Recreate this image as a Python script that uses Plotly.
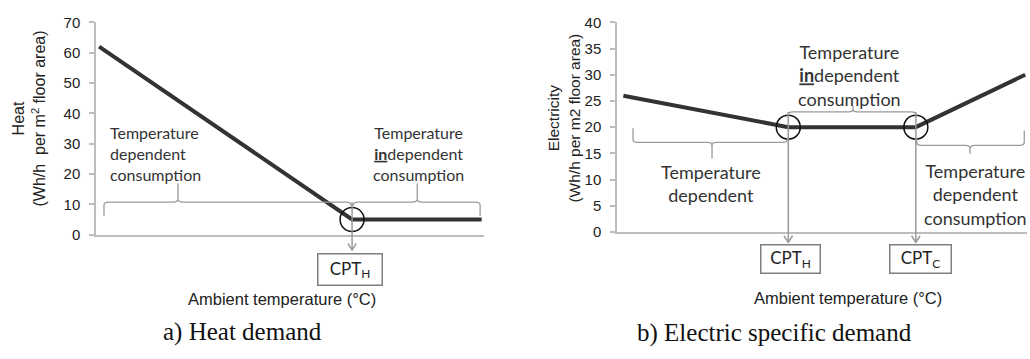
import plotly.graph_objects as go

# ---- data -------------------------------------------------------------
heat_temp = [-19.6, 13.0, 29.7]        # ambient temperature (arbitrary scale)
heat_demand = [62, 5, 5]               # Wh/h per m2 floor area
elec_temp = [-9.3, 8.8, 22.8, 34.8]
elec_demand = [26, 20, 20, 30]
heat_ticks = [0, 10, 20, 30, 40, 50, 60, 70]
elec_ticks = [0, 5, 10, 15, 20, 25, 30, 35, 40]

cpt_heat = heat_temp[1]
cpt_h_elec = elec_temp[1]
cpt_c_elec = elec_temp[2]

# ---- layout constants -------------------------------------------------
W, H = 1030, 359
HEAT_XR, HEAT_YR = [-20, 30], [0, 70]
ELEC_XR, ELEC_YR = [-10, 35], [0, 40]
heat_dom_x = [96 / W, 484 / W]
heat_dom_y = [(H - 236.8) / H, (H - 14) / H]
elec_dom_x = [617 / W, 1027 / W]
elec_dom_y = [(H - 234) / H, (H - 14) / H]

LINE_COL = "#333333"
AXIS_COL = "#bdbdbd"
GUIDE_COL = "#9a9a9a"
TEXT_COL = "#333333"
LABEL_FONT = "Lato, 'Open Sans', sans-serif"
ARIAL = "Liberation Sans, Arial, sans-serif"
SERIF = "Liberation Serif, 'Times New Roman', serif"


def paper_y(val, dom, rng):
    return dom[0] + (val - rng[0]) / (rng[1] - rng[0]) * (dom[1] - dom[0])


def px_y(py):
    return (H - py) / H


def brace(x0, x1, xm, yh, y_end0, y_end1, y_tip, d, e):
    """Curly brace path: horizontal bar at yh, curled ends, pointed tip at xm."""
    s0 = 1 if y_end0 > yh else -1
    s1 = 1 if y_end1 > yh else -1
    st = 1 if y_tip > yh else -1
    return (
        f"M {x0},{y_end0} L {x0},{yh + s0 * e} Q {x0},{yh} {x0 + d},{yh} "
        f"L {xm - d},{yh} Q {xm},{yh} {xm},{yh + st * e} L {xm},{y_tip} "
        f"L {xm},{yh + st * e} Q {xm},{yh} {xm + d},{yh} "
        f"L {x1 - d},{yh} Q {x1},{yh} {x1},{yh + s1 * e} L {x1},{y_end1}"
    )


fig = go.Figure()

# ---- heat demand ------------------------------------------------------
fig.add_trace(go.Scatter(x=heat_temp, y=heat_demand, mode="lines",
                         line=dict(color=LINE_COL, width=4),
                         xaxis="x", yaxis="y", hoverinfo="skip"))
fig.add_trace(go.Scatter(x=[heat_temp[1]], y=[heat_demand[1]], mode="markers",
                         marker=dict(symbol="circle-open", size=24, color="#111111",
                                     line=dict(width=1.5)),
                         xaxis="x", yaxis="y", hoverinfo="skip"))

# ---- electric specific demand -----------------------------------------
fig.add_trace(go.Scatter(x=elec_temp, y=elec_demand, mode="lines",
                         line=dict(color=LINE_COL, width=4),
                         xaxis="x2", yaxis="y2", hoverinfo="skip"))
fig.add_trace(go.Scatter(x=[elec_temp[1], elec_temp[2]], y=[elec_demand[1], elec_demand[2]],
                         mode="markers",
                         marker=dict(symbol="circle-open", size=24, color="#111111",
                                     line=dict(width=1.5)),
                         xaxis="x2", yaxis="y2", hoverinfo="skip"))

shapes = []

# braces (heat chart)
for path in [
    brace(-18.97, cpt_heat - 0.15, -9.43, 10.7, 6.2, 9.4, 16.9, 0.6, 1.0),
    brace(cpt_heat + 0.15, 29.5, 21.4, 10.7, 9.4, 6.2, 16.9, 0.6, 1.0),
]:
    shapes.append(dict(type="path", path=path, xref="x", yref="y",
                       line=dict(color=GUIDE_COL, width=1.3)))

# braces (electricity chart)
for path in [
    brace(-8.24, cpt_h_elec - 0.1, 0.43, 17.1, 19.8, 18.0, 14.0, 0.5, 0.6),
    brace(cpt_h_elec, cpt_c_elec, 15.9, 22.9, 22.0, 22.0, 24.1, 0.5, 0.5),
    brace(cpt_c_elec + 0.1, 34.7, 28.75, 16.5, 18.0, 19.3, 14.9, 0.5, 0.6),
]:
    shapes.append(dict(type="path", path=path, xref="x2", yref="y2",
                       line=dict(color=GUIDE_COL, width=1.3)))


def guide_arrow(xref, x, y_from_paper, tip_paper, half_w):
    arm = 7 / H
    shapes.append(dict(type="line", xref=xref, yref="paper", x0=x, x1=x,
                       y0=y_from_paper, y1=tip_paper,
                       line=dict(color=GUIDE_COL, width=1.5)))
    shapes.append(dict(type="path", xref=xref, yref="paper",
                       path=f"M {x - half_w},{tip_paper + arm} L {x},{tip_paper} L {x + half_w},{tip_paper + arm}",
                       line=dict(color=GUIDE_COL, width=1.5)))


guide_arrow("x", cpt_heat, paper_y(10.7, heat_dom_y, HEAT_YR), px_y(253), 0.55)
guide_arrow("x2", cpt_h_elec, paper_y(22.9, elec_dom_y, ELEC_YR), px_y(245), 0.47)
guide_arrow("x2", cpt_c_elec, paper_y(22.9, elec_dom_y, ELEC_YR), px_y(245), 0.47)

annotations = []


def box(xref, x, y, text, w, h, xshift=0):
    annotations.append(dict(xref=xref, yref="paper", x=x, y=y, text=text,
                            showarrow=False, xanchor="center", yanchor="middle",
                            width=w, height=h, bordercolor="#7f7f7f", borderwidth=1.5,
                            borderpad=0, bgcolor="white", xshift=xshift,
                            font=dict(family=LABEL_FONT, size=17, color="#222222")))


box("x", cpt_heat, px_y(273.5), "CPT<sub>H</sub>", 63, 30, xshift=-2)
box("x2", cpt_h_elec, px_y(262), "CPT<sub>H</sub>", 58, 27, xshift=2.5)
box("x2", cpt_c_elec, px_y(262), "CPT<sub>C</sub>", 60, 27, xshift=4.5)


def label(xref, yref, x, y, text, size, align="center", xanchor="center"):
    annotations.append(dict(xref=xref, yref=yref, x=x, y=y, text=text, showarrow=False,
                            xanchor=xanchor, yanchor="middle", align=align,
                            font=dict(family=LABEL_FONT, size=size, color=TEXT_COL)))


label("x", "y", -18.4, 26.6, "Temperature<br>dependent<br>consumption", 16,
      align="left", xanchor="left")
label("x", "y", 21.5, 26.9, "Temperature<br><b><u>in</u></b>dependent<br>consumption", 16)
label("x2", "y2", 15.5, 29.8, "Temperature<br><b><u>in</u></b>dependent<br>consumption", 18)
label("x2", "y2", 0.3, 9.2, "Temperature<br>dependent", 18)
label("x2", "y2", 29.3, 7.1, "Temperature<br>dependent<br>consumption", 18)

# axis titles
annotations.append(dict(xref="paper", yref="paper", x=29 / W, y=px_y(115),
                        text="Heat<br>(Wh/h  per m<sup>2</sup> floor area)", textangle=-90,
                        showarrow=False, xanchor="center", yanchor="middle",
                        font=dict(family=ARIAL, size=16, color="#222222")))
annotations.append(dict(xref="paper", yref="paper", x=564 / W, y=px_y(115),
                        text="Electricity<br>(Wh/h per m2 floor area)", textangle=-90,
                        showarrow=False, xanchor="center", yanchor="middle",
                        font=dict(family=ARIAL, size=15.5, color="#222222")))
annotations.append(dict(xref="paper", yref="paper", x=282 / W, y=px_y(304),
                        text="Ambient temperature (°C)", showarrow=False,
                        xanchor="center", yanchor="middle",
                        font=dict(family=ARIAL, size=16.5, color="#222222")))
annotations.append(dict(xref="paper", yref="paper", x=848 / W, y=px_y(303),
                        text="Ambient temperature (°C)", showarrow=False,
                        xanchor="center", yanchor="middle",
                        font=dict(family=ARIAL, size=16.5, color="#222222")))

# panel captions
annotations.append(dict(xref="paper", yref="paper", x=242 / W, y=px_y(339),
                        text="a) Heat demand", showarrow=False,
                        xanchor="center", yanchor="middle",
                        font=dict(family=SERIF, size=25, color="#111111")))
annotations.append(dict(xref="paper", yref="paper", x=774 / W, y=px_y(340),
                        text="b) Electric specific demand", showarrow=False,
                        xanchor="center", yanchor="middle",
                        font=dict(family=SERIF, size=25, color="#111111")))

xaxis_common = dict(showline=True, linecolor=AXIS_COL, linewidth=1.5, showticklabels=False,
                    ticks="", showgrid=False, zeroline=False, fixedrange=True)
yaxis_common = dict(showline=True, linecolor=AXIS_COL, linewidth=1.5, ticks="outside",
                    ticklen=5, tickcolor=AXIS_COL, tickwidth=1.5, showgrid=False,
                    zeroline=False, ticklabelstandoff=6,
                    tickfont=dict(family=ARIAL, size=15, color="#222222"))

fig.update_layout(
    width=W, height=H,
    margin=dict(l=0, r=0, t=0, b=0),
    paper_bgcolor="white", plot_bgcolor="white",
    showlegend=False,
    xaxis=dict(domain=heat_dom_x, range=HEAT_XR, anchor="y", **xaxis_common),
    yaxis=dict(domain=heat_dom_y, range=HEAT_YR, anchor="x", tickvals=heat_ticks,
               **yaxis_common),
    xaxis2=dict(domain=elec_dom_x, range=ELEC_XR, anchor="y2", **xaxis_common),
    yaxis2=dict(domain=elec_dom_y, range=ELEC_YR, anchor="x2", tickvals=elec_ticks,
                **yaxis_common),
    shapes=shapes,
    annotations=annotations,
)

fig.write_html("out.html")
